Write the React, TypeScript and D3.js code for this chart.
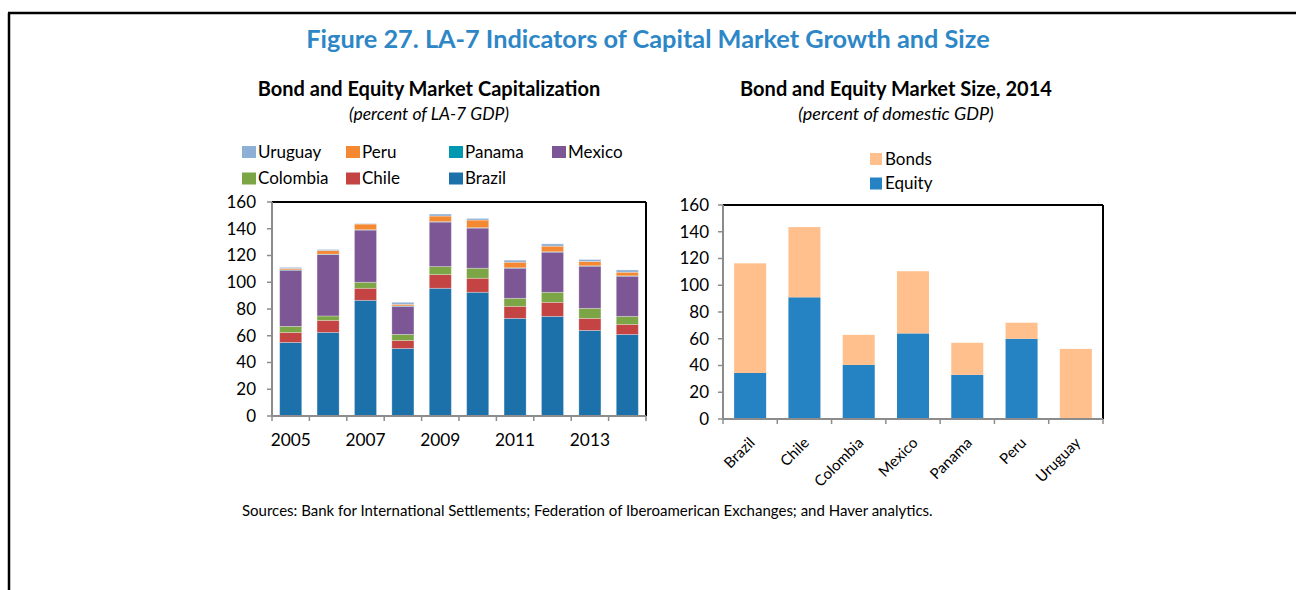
import React from "react";
import * as d3 from "d3";

// left panel: percent of LA-7 GDP, stacked bottom-up
const years = ["2005", "2006", "2007", "2008", "2009", "2010", "2011", "2012", "2013", "2014"];
const yearLabels = ["2005", "2007", "2009", "2011", "2013"];
const countries = ["Brazil", "Chile", "Colombia", "Mexico", "Panama", "Peru", "Uruguay"];
const brazil = [55, 62.5, 86.5, 50.5, 95.5, 92.5, 73, 74.5, 64, 61];
const chile = [7.5, 9, 9, 6, 10.2, 10.5, 9, 10.5, 9, 7.5];
const colombia = [4.5, 3.3, 4.5, 4.5, 6, 7.5, 6, 7.5, 7.5, 6];
const mexico = [42, 45.9, 39, 21, 33.3, 30, 22.5, 30, 31.5, 30];
const panama = [0.3, 0.3, 0.3, 0.3, 0.3, 0.3, 0.3, 0.3, 0.3, 0.3];
const peru = [1, 2.7, 4.2, 1.2, 4.2, 5.7, 4.2, 4.2, 3.2, 2.7];
const uruguay = [0.8, 0.8, 0.3, 1.5, 1.5, 1.2, 1.5, 1.7, 1.5, 1.7];
const legendOrder = ["Uruguay", "Peru", "Panama", "Mexico", "Colombia", "Chile", "Brazil"];

// right panel: percent of domestic GDP, 2014
const markets = ["Brazil", "Chile", "Colombia", "Mexico", "Panama", "Peru", "Uruguay"];
const equity = [34.4, 91, 40.4, 64, 33, 60, 0];
const bonds = [82, 52.5, 22.5, 46.5, 24, 12, 52.4];

const yTicks = [0, 20, 40, 60, 80, 100, 120, 140, 160];

const countryColor: Record<string, string> = {
  Brazil: "#1c71ab",
  Chile: "#c44444",
  Colombia: "#7ca545",
  Mexico: "#7d5695",
  Panama: "#0097b0",
  Peru: "#f58933",
  Uruguay: "#8eb0d6",
};
const equityColor = "#2582c3";
const bondsColor = "#ffc08e";
const axisGrey = "#8c8c8c";
const font = "Lato, 'Noto Sans', sans-serif";

const seriesByCountry: Record<string, number[]> = {
  Brazil: brazil,
  Chile: chile,
  Colombia: colombia,
  Mexico: mexico,
  Panama: panama,
  Peru: peru,
  Uruguay: uruguay,
};

const Frame = ({
  x0,
  x1,
  y0,
  y1,
  step,
  n,
}: {
  x0: number;
  x1: number;
  y0: number;
  y1: number;
  step: number;
  n: number;
}) => (
  <g>
    <line x1={x0} x2={x1} y1={y1} y2={y1} stroke="#000" strokeWidth={2} />
    <line x1={x1} x2={x1} y1={y1} y2={y0} stroke="#000" strokeWidth={2} />
    <line x1={x0} x2={x0} y1={y1} y2={y0} stroke={axisGrey} strokeWidth={2} />
    <line x1={x0} x2={x1} y1={y0} y2={y0} stroke={axisGrey} strokeWidth={2} />
    {d3.range(n + 1).map((i) => (
      <line
        key={i}
        x1={x0 + i * step}
        x2={x0 + i * step}
        y1={y0}
        y2={y0 + 5}
        stroke={axisGrey}
        strokeWidth={1.5}
      />
    ))}
  </g>
);

const YAxis = ({ y, x0, gap }: { y: d3.ScaleLinear<number, number>; x0: number; gap: number }) => (
  <g>
    {yTicks.map((t) => (
      <g key={t}>
        <line x1={x0 - 5} x2={x0} y1={y(t)} y2={y(t)} stroke={axisGrey} strokeWidth={1.5} />
        <text
          x={x0 - gap}
          y={y(t)}
          dy="0.35em"
          textAnchor="end"
          fontSize={17}
          fontFamily={font}
          fill="#000"
        >
          {t}
        </text>
      </g>
    ))}
  </g>
);

const LeftChart = () => {
  const x0 = 272;
  const x1 = 646;
  const y = d3.scaleLinear().domain([0, 160]).range([416, 202]);
  const x = d3
    .scaleBand<string>()
    .domain(years)
    .range([x0, x1])
    .paddingInner(0.41)
    .paddingOuter(0.205);

  const table = years.map((yr, i) => {
    const row: any = { year: yr };
    countries.forEach((c) => (row[c] = seriesByCountry[c][i]));
    return row;
  });
  const stack = d3.stack<any>().keys(countries)(table);

  const legendCols = [242, 346, 449, 552];

  return (
    <g>
      <text x={429} y={96} textAnchor="middle" fontSize={20} fontWeight="bold" fontFamily={font}>
        Bond and Equity Market Capitalization
      </text>
      <text x={429} y={120} textAnchor="middle" fontSize={17.5} fontStyle="italic" fontFamily={font}>
        (percent of LA-7 GDP)
      </text>
      {legendOrder.map((c, i) => {
        const lx = legendCols[i % 4];
        const ly = i < 4 ? 152 : 178.5;
        return (
          <g key={c}>
            <rect x={lx} y={ly - 6} width={14} height={12} fill={countryColor[c]} />
            <text x={lx + 16} y={ly} dy="0.35em" fontSize={17} fontFamily={font}>
              {c}
            </text>
          </g>
        );
      })}
      {stack.map((layer) => (
        <g key={layer.key} fill={countryColor[layer.key]}>
          {layer.map((d, i) => (
            <rect
              key={i}
              x={x(years[i])}
              width={x.bandwidth()}
              y={y(d[1])}
              height={Math.max(0, y(d[0]) - y(d[1]))}
              stroke="#ffffff"
              strokeOpacity={0.35}
              strokeWidth={0.8}
            />
          ))}
        </g>
      ))}
      <Frame x0={x0} x1={x1} y0={y(0)} y1={y(160)} step={x.step()} n={years.length} />
      <YAxis y={y} x0={x0} gap={16} />
      {yearLabels.map((yr) => (
        <text
          key={yr}
          x={(x(yr) as number) + x.bandwidth() / 2}
          y={440}
          dy="0.35em"
          textAnchor="middle"
          fontSize={17.3}
          fontFamily={font}
        >
          {yr}
        </text>
      ))}
    </g>
  );
};

const RightChart = () => {
  const x0 = 723;
  const x1 = 1103;
  const y = d3.scaleLinear().domain([0, 160]).range([419, 205]);
  const x = d3
    .scaleBand<string>()
    .domain(markets)
    .range([x0, x1])
    .paddingInner(0.41)
    .paddingOuter(0.205);

  const table = markets.map((m, i) => ({ market: m, Equity: equity[i], Bonds: bonds[i] }));
  const stack = d3.stack<any>().keys(["Equity", "Bonds"])(table);
  const colors: Record<string, string> = { Equity: equityColor, Bonds: bondsColor };

  return (
    <g>
      <text x={896} y={96} textAnchor="middle" fontSize={20} fontWeight="bold" fontFamily={font}>
        Bond and Equity Market Size, 2014
      </text>
      <text x={896} y={120} textAnchor="middle" fontSize={18} fontStyle="italic" fontFamily={font}>
        (percent of domestic GDP)
      </text>
      {["Bonds", "Equity"].map((k, i) => (
        <g key={k}>
          <rect x={870} y={153 + i * 24.5} width={12} height={12} fill={colors[k]} />
          <text x={885} y={159 + i * 24.5} dy="0.35em" fontSize={17} fontFamily={font}>
            {k}
          </text>
        </g>
      ))}
      {stack.map((layer) => (
        <g key={layer.key} fill={colors[layer.key]}>
          {layer.map((d, i) => (
            <rect
              key={i}
              x={x(markets[i])}
              width={x.bandwidth()}
              y={y(d[1])}
              height={Math.max(0, y(d[0]) - y(d[1]))}
            />
          ))}
        </g>
      ))}
      <Frame x0={x0} x1={x1} y0={y(0)} y1={y(160)} step={x.step()} n={markets.length} />
      <YAxis y={y} x0={x0} gap={14} />
      {markets.map((m) => {
        const cx = (x(m) as number) + x.bandwidth() / 2 + 2;
        const cy = 440;
        return (
          <text
            key={m}
            transform={`translate(${cx},${cy}) rotate(-45)`}
            textAnchor="end"
            dy="0.35em"
            fontSize={15}
            fontFamily={font}
          >
            {m}
          </text>
        );
      })}
    </g>
  );
};

export default function App() {
  const width = 1296;
  const height = 590;
  return (
    <svg
      width={width}
      height={height}
      style={{ position: "absolute", left: 0, top: 0, background: "#fff" }}
    >
      <rect width={width} height={height} fill="#fff" />
      <line x1={8} x2={width} y1={13} y2={13} stroke="#000" strokeWidth={2.5} />
      <line x1={9} x2={9} y1={13} y2={height} stroke="#000" strokeWidth={2.5} />
      <text
        x={648}
        y={48}
        textAnchor="middle"
        fontSize={25.3}
        fontWeight="bold"
        fontFamily={font}
        fill="#2d87c6"
      >
        Figure 27. LA-7 Indicators of Capital Market Growth and Size
      </text>
      <LeftChart />
      <RightChart />
      <text x={242} y={516} fontSize={15} fontFamily={font} fill="#000">
        Sources: Bank for International Settlements; Federation of Iberoamerican Exchanges; and Haver
        analytics.
      </text>
    </svg>
  );
}
